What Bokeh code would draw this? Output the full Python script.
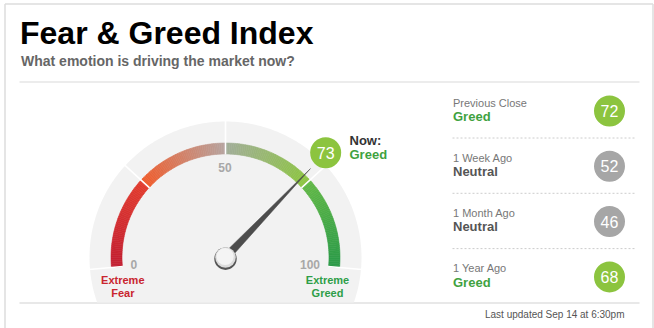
import numpy as np
from bokeh.plotting import figure
from bokeh.models import Range1d
from bokeh.core.properties import value
from bokeh.embed import file_html
from bokeh.resources import INLINE

# ---------------- data ----------------
title = "Fear & Greed Index"
subtitle = "What emotion is driving the market now?"
now_value = 73
now_label = "Now:"
now_status = "Greed"
scale_ticks = [0, 50, 100]
zone_bounds = [0, 25, 50, 75, 100]
zone_colors = [("#c21f32", "#e23c2e"), ("#f05b2a", "#b6a4a0"),
               ("#a2ad9a", "#8cc540"), ("#62b847", "#2a9a48")]
end_labels = [["Extreme", "Fear"], ["Extreme", "Greed"]]
history_labels = ["Previous Close", "1 Week Ago", "1 Month Ago", "1 Year Ago"]
history_status = ["Greed", "Neutral", "Neutral", "Greed"]
history_values = [72, 52, 46, 68]
updated = "Last updated Sep 14 at 6:30pm"

# ---------------- layout ----------------
W, H = 654, 328
FONT = value("Liberation Sans")
GREEN = "#3fa23f"
RED = "#c9252f"
DGREEN = "#2e9e48"


def Y(py):
    return H - py


def TB(baseline_px, fs):
    """screen baseline (px from top) -> data y for a 'middle' anchored text"""
    return H - (np.asarray(baseline_px, dtype=float) - 0.36 * fs)


p = figure(width=W, height=H, x_range=Range1d(0, W), y_range=Range1d(0, H),
           min_border=0, toolbar_location=None, output_backend="svg",
           x_axis_location=None, y_axis_location=None,
           outline_line_color=None, background_fill_color="white",
           border_fill_color="white")
p.grid.visible = False

# frame
fc = "#dddddd"
p.segment(x0=[4.5, 652.5, 4.5], y0=[Y(3.5), Y(3.5), Y(3.5)],
          x1=[4.5, 652.5, 652.5], y1=[Y(328), Y(328), Y(3.5)],
          line_color=fc, line_width=1.5)
p.segment(x0=[19], y0=[Y(81.5)], x1=[639], y1=[Y(81.5)], line_color="#e6e6e6", line_width=1.5)
p.segment(x0=[19], y0=[Y(302.5)], x1=[639], y1=[Y(302.5)], line_color="#e8e8e8", line_width=2.2)

# title
p.text(x=[19.5], y=[TB(44.5, 32)], text=[title], text_font=FONT, text_font_size="32px",
       text_font_style="bold", text_color="#000000", text_baseline="middle")
p.text(x=[20.5], y=[TB(65.5, 14)], text=[subtitle], text_font=FONT, text_font_size="14px",
       text_font_style="bold", text_color="#666666", text_baseline="middle")

# gauge
cx, cy = 225.0, Y(257)
r_out, r_in, r_bg = 114.5, 103.5, 136.0


def ang(v):
    return np.radians(185.0 - 1.9 * np.asarray(v, dtype=float))


# grey background clipped at bottom line
lim = np.degrees(np.arcsin((302 - 257) / r_bg))
t = np.radians(np.linspace(-lim, 180 + lim, 200))
p.patch(x=cx + r_bg * np.cos(t), y=cy + r_bg * np.sin(t), fill_color="#f2f2f2", line_color=None)


def hex2rgb(h):
    return np.array([int(h[i:i + 2], 16) for i in (1, 3, 5)], dtype=float)


xs0, xs1, cols = [], [], []
for i in range(4):
    a, b = zone_bounds[i], zone_bounds[i + 1]
    c0, c1 = hex2rgb(zone_colors[i][0]), hex2rgb(zone_colors[i][1])
    n = 48
    edges = np.linspace(a, b, n + 1)
    for k in range(n):
        f = (k + 0.5) / n
        c = c0 + (c1 - c0) * f
        xs0.append(edges[k])
        xs1.append(edges[k + 1])
        cols.append("#%02x%02x%02x" % tuple(int(round(v)) for v in c))
p.annular_wedge(x=cx, y=cy, inner_radius=r_in, outer_radius=r_out,
                start_angle=ang(xs1), end_angle=ang(xs0),
                fill_color=cols, line_color=cols, line_width=0.6)

# white separators
ab = ang(zone_bounds)
p.segment(x0=cx + (r_in - 0.5) * np.cos(ab), y0=cy + (r_in - 0.5) * np.sin(ab),
          x1=cx + (r_bg + 1) * np.cos(ab), y1=cy + (r_bg + 1) * np.sin(ab),
          line_color="white", line_width=1.6)

# scale labels
tick_pos = {0: (133.3, 268.7), 50: (224.5, 171.5), 100: (309.5, 268.7)}
p.text(x=[tick_pos[v][0] for v in scale_ticks], y=[TB(tick_pos[v][1], 12) for v in scale_ticks],
       text=[str(v) for v in scale_ticks], text_font=FONT, text_font_size="12px",
       text_font_style="bold", text_color="#a8a8a8", text_align="center",
       text_baseline="middle")

# end labels
for (lx, col), lines in zip([(122.3, RED), (327.0, DGREEN)], end_labels):
    p.text(x=[lx, lx], y=TB([283.3, 296], 11), text=lines, text_font=FONT,
           text_font_size="11px", text_font_style="bold", text_color=col,
           text_align="center", text_baseline="middle")

# needle
a = float(ang(now_value))
L, hw = 123.0, 4.0
ux, uy = np.cos(a), np.sin(a)
px_, py_ = -uy, ux
p.patch(x=[cx + px_ * hw, cx + ux * L, cx - px_ * hw],
        y=[cy + py_ * hw, cy + uy * L, cy - py_ * hw],
        fill_color="#4d4d4d", line_color="#4d4d4d", line_width=0.5)

# hub
p.circle(x=[cx], y=[cy - 1.2], radius=11.2, fill_color="#555555", line_color=None)
p.circle(x=[cx], y=[cy], radius=10.3, fill_color="#dcdcdc", line_color=None)
p.circle(x=[cx - 0.4], y=[cy + 1.0], radius=8.6, fill_color="#f4f4f4", line_color=None)

# now bubble
rb = 145.0
bx, by = cx + rb * np.cos(a), cy + rb * np.sin(a)
p.circle(x=[bx], y=[by], radius=15.5, fill_color="#8cc43f", line_color=None)
p.text(x=[bx], y=[by], text=[str(now_value)], text_font=FONT, text_font_size="16px",
       text_color="white", text_align="center", text_baseline="middle")
p.text(x=[349], y=[TB(145, 13)], text=[now_label], text_font=FONT, text_font_size="13px",
       text_font_style="bold", text_color="#333333", text_baseline="middle")
p.text(x=[349], y=[TB(159, 13)], text=[now_status], text_font=FONT, text_font_size="13px",
       text_font_style="bold", text_color=GREEN, text_baseline="middle")

# history panel
base = np.array([106.0 + 55.3 * i for i in range(len(history_labels))])
p.text(x=[452.5] * len(base), y=TB(base, 11), text=history_labels, text_font=FONT,
       text_font_size="11px", text_color="#777777", text_baseline="middle")
scol = [GREEN if s == "Greed" else "#555555" for s in history_status]
p.text(x=[452.5] * len(base), y=TB(base + 14.5, 13), text=history_status, text_font=FONT,
       text_font_size="13px", text_font_style="bold", text_color=scol,
       text_baseline="middle")
ccol = ["#8cc43f" if s == "Greed" else "#a6a6a6" for s in history_status]
p.circle(x=[609] * len(base), y=Y(base + 4.5), radius=15.5, fill_color=ccol, line_color=None)
p.text(x=[609] * len(base), y=Y(base + 4.5), text=[str(v) for v in history_values],
       text_font=FONT, text_font_size="16px", text_color="white", text_align="center",
       text_baseline="middle")
sep = base[:-1] + 31.5
p.segment(x0=[452] * len(sep), y0=Y(sep), x1=[634] * len(sep), y1=Y(sep),
          line_color="#cccccc", line_width=1, line_dash="2 2")

p.text(x=[624], y=[TB(317.5, 10)], text=[updated], text_font=FONT, text_font_size="10px",
       text_color="#555555", text_align="right", text_baseline="middle")

open("out.html", "w").write(file_html(p, INLINE))
